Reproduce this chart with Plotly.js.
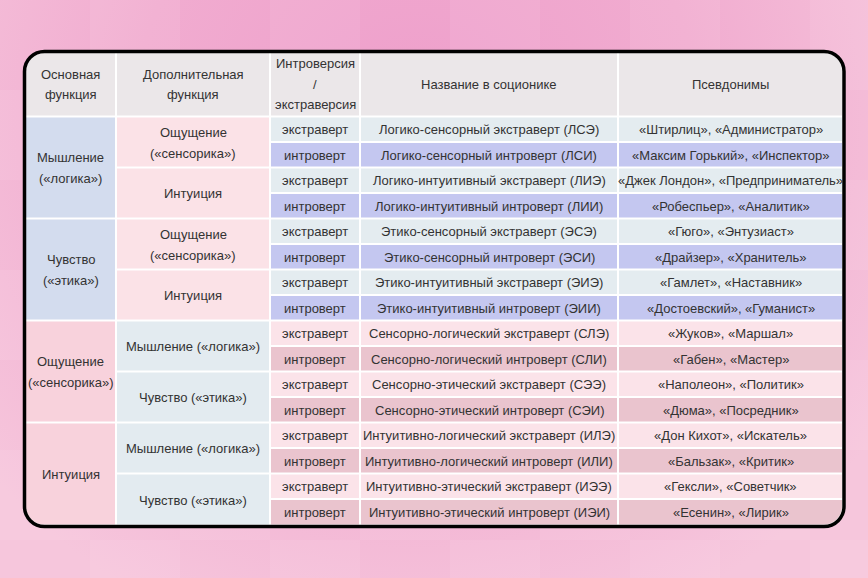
<!DOCTYPE html>
<html><head><meta charset="utf-8">
<script src="https://cdn.plot.ly/plotly-3.0.1.min.js"></script>
<style>
html,body{margin:0;padding:0;}
body{width:868px;height:578px;overflow:hidden;
background:
 repeating-conic-gradient(rgba(255,255,255,0.07) 0% 25%, rgba(255,255,255,0) 0% 50%) 0 0/180px 180px,
 radial-gradient(ellipse 65% 95% at 48% 20%, #ee9fcb 0%, #f1acd0 50%, #f6c6dc 100%);}
#chart{width:868px;height:578px;}
</style></head><body><div id="chart"></div>
<script>
// ---- data ----
const headers = ["Основная\nфункция", "Дополнительная\nфункция", "Интроверсия\n/\nэкстраверсия", "Название в соционике", "Псевдонимы"];
const mainFunctions = ["Мышление\n(«логика»)", "Чувство\n(«этика»)", "Ощущение\n(«сенсорика»)", "Интуиция"];
const additionalFunctions = ["Ощущение\n(«сенсорика»)", "Интуиция", "Ощущение\n(«сенсорика»)", "Интуиция",
  "Мышление («логика»)", "Чувство («этика»)", "Мышление («логика»)", "Чувство («этика»)"];
const attitudes = ["экстраверт","интроверт","экстраверт","интроверт","экстраверт","интроверт","экстраверт","интроверт",
  "экстраверт","интроверт","экстраверт","интроверт","экстраверт","интроверт","экстраверт","интроверт"];
const typeNames = [
  "Логико-сенсорный экстраверт (ЛСЭ)", "Логико-сенсорный интроверт (ЛСИ)",
  "Логико-интуитивный экстраверт (ЛИЭ)", "Логико-интуитивный интроверт (ЛИИ)",
  "Этико-сенсорный экстраверт (ЭСЭ)", "Этико-сенсорный интроверт (ЭСИ)",
  "Этико-интуитивный экстраверт (ЭИЭ)", "Этико-интуитивный интроверт (ЭИИ)",
  "Сенсорно-логический экстраверт (СЛЭ)", "Сенсорно-логический интроверт (СЛИ)",
  "Сенсорно-этический экстраверт (СЭЭ)", "Сенсорно-этический интроверт (СЭИ)",
  "Интуитивно-логический экстраверт (ИЛЭ)", "Интуитивно-логический интроверт (ИЛИ)",
  "Интуитивно-этический экстраверт (ИЭЭ)", "Интуитивно-этический интроверт (ИЭИ)"];
const pseudonyms = [
  "«Штирлиц», «Администратор»", "«Максим Горький», «Инспектор»",
  "«Джек Лондон», «Предприниматель»", "«Робеспьер», «Аналитик»",
  "«Гюго», «Энтузиаст»", "«Драйзер», «Хранитель»",
  "«Гамлет», «Наставник»", "«Достоевский», «Гуманист»",
  "«Жуков», «Маршал»", "«Габен», «Мастер»",
  "«Наполеон», «Политик»", "«Дюма», «Посредник»",
  "«Дон Кихот», «Искатель»", "«Бальзак», «Критик»",
  "«Гексли», «Советчик»", "«Есенин», «Лирик»"];

// ---- layout constants ----
const W = 868, H = 578;
const colEdges = [26, 116, 270, 360, 618, 842];
const headerTop = 53, bodyTop = 116.5, rowH = 25.5;
const frame = {l: 24.5, t: 51.5, r: 844, b: 526.5, rad: 20, w: 3.5};
const innerRad = 18;
const palettes = [
  {main: "#d3dcee", add: "#fbe2e7", extra: "#e4ecf0", intro: "#c4c7f0"},
  {main: "#f8d2dc", add: "#e3ebf0", extra: "#fbe3e9", intro: "#eac4ce"}
];
const headerColor = "#ebe7e9";
const textColor = "#333333";
const fontFamily = "'Liberation Sans', Arial, sans-serif";
const K = 0.5523;

function roundedPath(x0, y0, x1, y1, r, c) {
  // c: {tl,tr,br,bl} booleans
  const rt = c.tl ? r : 0, rr = c.tr ? r : 0, rb = c.br ? r : 0, rl = c.bl ? r : 0;
  let p = `M${x0 + rt},${y0} L${x1 - rr},${y0} `;
  if (rr) p += `C${x1 - rr + K*rr},${y0} ${x1},${y0 + rr - K*rr} ${x1},${y0 + rr} `;
  p += `L${x1},${y1 - rb} `;
  if (rb) p += `C${x1},${y1 - rb + K*rb} ${x1 - rb + K*rb},${y1} ${x1 - rb},${y1} `;
  p += `L${x0 + rl},${y1} `;
  if (rl) p += `C${x0 + rl - K*rl},${y1} ${x0},${y1 - rl + K*rl} ${x0},${y1 - rl} `;
  p += `L${x0},${y0 + rt} `;
  if (rt) p += `C${x0},${y0 + rt - K*rt} ${x0 + rt - K*rt},${y0} ${x0 + rt},${y0} `;
  return p + "Z";
}

const shapes = [];
const annotations = [];
const nRows = typeNames.length;
const rowEdge = i => bodyTop + rowH * i;

// white frame fill
shapes.push({type: "path", xref: "x", yref: "y", layer: "above",
  path: roundedPath(frame.l, frame.t, frame.r, frame.b, frame.rad, {tl:1,tr:1,br:1,bl:1}),
  fillcolor: "#ffffff", line: {width: 0}});

function addCell(col, rowStart, rowEnd, fill, text, gap, isHeader) {
  const x0 = colEdges[col] + (col > 0 ? 1 : 0);
  const x1 = colEdges[col + 1] - (col < colEdges.length - 2 ? 1 : 0);
  let y0, y1;
  if (isHeader) { y0 = headerTop; y1 = bodyTop - 1; }
  else { y0 = rowEdge(rowStart) + 1; y1 = rowEdge(rowEnd) - (rowEnd === nRows ? 0 : 1); }
  const corners = {
    tl: isHeader && col === 0, tr: isHeader && col === 4,
    bl: !isHeader && rowEnd === nRows && col === 0, br: !isHeader && rowEnd === nRows && col === 4
  };
  shapes.push({type: "path", xref: "x", yref: "y", layer: "above",
    path: roundedPath(x0, y0, x1, y1, innerRad, corners), fillcolor: fill, line: {width: 0}});
  const lines = text.split("\n");
  const cy = (y0 + y1) / 2 + (isHeader ? 0 : 0.5);
  lines.forEach((ln, i) => {
    annotations.push({x: (x0 + x1) / 2, y: cy + (i - (lines.length - 1) / 2) * gap,
      xref: "x", yref: "y", text: ln, showarrow: false, xanchor: "center", yanchor: "middle",
      font: {family: fontFamily, size: 13, color: textColor}});
  });
}

headers.forEach((h, c) => addCell(c, 0, 0, headerColor, h, 20.5, true));
mainFunctions.forEach((m, g) => {
  const pal = palettes[Math.floor(g / 2)];
  addCell(0, g * 4, g * 4 + 4, pal.main, m, 21, false);
});
additionalFunctions.forEach((a, k) => {
  const pal = palettes[Math.floor(k / 4)];
  addCell(1, k * 2, k * 2 + 2, pal.add, a, 21, false);
});
for (let i = 0; i < nRows; i++) {
  const pal = palettes[Math.floor(i / 8)];
  const fill = attitudes[i] === "экстраверт" ? pal.extra : pal.intro;
  addCell(2, i, i + 1, fill, attitudes[i], 21, false);
  addCell(3, i, i + 1, fill, typeNames[i], 21, false);
  addCell(4, i, i + 1, fill, pseudonyms[i], 21, false);
}

// black rounded border on top
shapes.push({type: "path", xref: "x", yref: "y", layer: "above",
  path: roundedPath(frame.l, frame.t, frame.r, frame.b, frame.rad, {tl:1,tr:1,br:1,bl:1}),
  fillcolor: "rgba(0,0,0,0)", line: {color: "#000000", width: frame.w}});

const layout = {
  width: W, height: H,
  margin: {l: 0, r: 0, t: 0, b: 0, pad: 0},
  paper_bgcolor: "rgba(0,0,0,0)", plot_bgcolor: "rgba(0,0,0,0)",
  xaxis: {range: [0, W], visible: false, fixedrange: true},
  yaxis: {range: [H, 0], visible: false, fixedrange: true},
  showlegend: false,
  shapes: shapes,
  annotations: annotations
};
Plotly.newPlot("chart", [], layout, {staticPlot: true, displayModeBar: false});
</script></body></html>
